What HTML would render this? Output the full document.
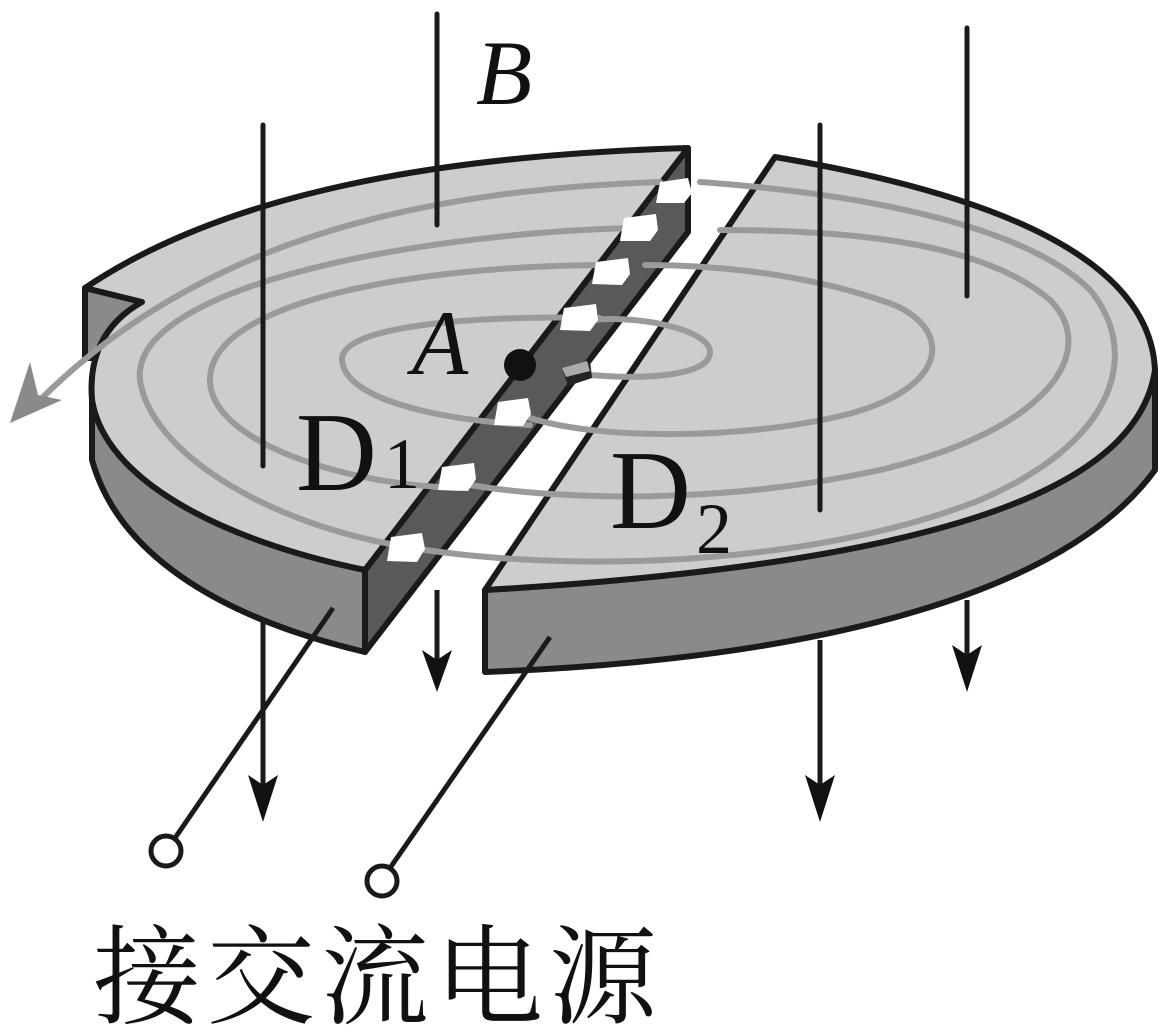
<!DOCTYPE html>
<html><head><meta charset="utf-8"><style>html,body{margin:0;padding:0;background:#fff}svg{display:block}</style></head>
<body>
<svg width="1168" height="1036" viewBox="0 0 1168 1036" xmlns="http://www.w3.org/2000/svg">
<!-- lower field lines -->
<g stroke="#1a1a1a" stroke-width="5" fill="none">
<line x1="263" y1="600" x2="263" y2="790"/>
<line x1="437" y1="590" x2="437" y2="665"/>
<line x1="820" y1="640" x2="820" y2="790"/>
<line x1="967" y1="600" x2="967" y2="665"/>
</g>
<g fill="#111">
<path d="M248,775 L263,822 L278,775 L263,785Z"/>
<path d="M422,650 L437,692 L452,650 L437,660Z"/>
<path d="M805,775 L820,822 L835,775 L820,785Z"/>
<path d="M952,645 L967,692 L982,645 L967,655Z"/>
</g>
<!-- D1 side wall -->
<path d="M92,400 L92,460 C120,560 230,620 365,652 L365,570 C220,540 110,480 92,400Z" fill="#8a8a8a" stroke="#1a1a1a" stroke-width="6" stroke-linejoin="round"/>
<!-- D1 gap wall (dark) -->
<path d="M365,570 L688,148 L688,232 L365,652Z" fill="#595959" stroke="#1a1a1a" stroke-width="6" stroke-linejoin="round"/>
<!-- back notch -->
<path d="M85,288 L142,302 C115,320 100,340 98,358 L85,358Z" fill="#8a8a8a" stroke="#1a1a1a" stroke-width="6" stroke-linejoin="round"/>
<!-- D1 top face -->
<path d="M85,288 C230,190 450,155 688,148 L365,570 C220,540 105,480 92,400 C88,350 110,320 142,302 Z" fill="#cdcdcd" stroke="#1a1a1a" stroke-width="6" stroke-linejoin="round"/>
<!-- D2 side -->
<path d="M485,590 L485,672 C800,660 1060,600 1155,470 L1155,370 C1140,470 1000,560 485,590Z" fill="#8a8a8a" stroke="#1a1a1a" stroke-width="6" stroke-linejoin="round"/>
<!-- D2 top -->
<path d="M775,157 C1000,195 1150,260 1155,370 C1140,470 1000,560 485,590 Z" fill="#cdcdcd" stroke="#1a1a1a" stroke-width="6" stroke-linejoin="round"/>
<!-- spirals -->
<g stroke="#9a9a9a" stroke-width="6" fill="none" stroke-linecap="round">
<path d="M600,318 C480,315 340,325 342,360 C345,400 440,420 530,425"/>
<path d="M590,375 C650,380 710,375 710,352 C710,330 640,315 592,320"/>
<path d="M612,265 C420,265 210,300 210,380 C210,440 340,485 460,488"/>
<path d="M530,418 C600,440 740,440 845,415 C960,385 950,320 880,300 C790,270 700,265 645,265"/>
<path d="M628,228 C400,235 130,290 140,380 C150,450 260,520 395,545"/>
<path d="M470,485 C560,500 720,505 880,470 C1050,430 1100,350 1050,300 C980,240 840,230 720,230"/>
<path d="M425,550 C600,575 830,560 980,500 C1120,440 1140,350 1090,290 C1030,230 880,195 700,182"/>
<path d="M660,182 C420,190 200,240 40,400"/>
</g>
<path d="M10,423 L30,362 L38,395 L62,400 Z" fill="#8a8a8a"/>
<!-- terminals -->
<g fill="#fff">
<path d="M660,182 L688,178 L692,193 L684,203 L656,203 Z"/>
<path d="M624,218 L656,214 L658,230 L650,241 L620,241 Z"/>
<path d="M596,262 L628,258 L630,274 L622,285 L592,284 Z"/>
<path d="M564,308 L596,304 L598,320 L590,331 L560,330 Z"/>
<path d="M498,402 L528,398 L531,414 L523,426 L494,425 Z"/>
<path d="M442,467 L474,463 L476,479 L468,491 L438,490 Z"/>
<path d="M391,537 L422,533 L425,549 L417,562 L387,561 Z"/>
</g>
<path d="M562,368 L590,360 L592,378 L568,386 Z" fill="#222"/><path d="M562,368 L587,361 L590,371 L566,377Z" fill="#aaa"/>
<!-- dot A -->
<circle cx="520" cy="365" r="16" fill="#111"/>
<!-- upper field lines -->
<g stroke="#1a1a1a" stroke-width="5" stroke-linecap="round">
<line x1="437" y1="14" x2="437" y2="225"/>
<line x1="263" y1="125" x2="263" y2="466"/>
<line x1="820" y1="125" x2="820" y2="510"/>
<line x1="967" y1="28" x2="967" y2="296"/>
</g>
<!-- wires -->
<g stroke="#1a1a1a" stroke-width="5" fill="none">
<line x1="333" y1="608" x2="175" y2="838"/>
<line x1="550" y1="637" x2="390" y2="868"/>
<circle cx="166" cy="851" r="15" stroke-width="5" fill="#fff"/>
<circle cx="382" cy="881" r="15" stroke-width="5" fill="#fff"/>
</g>
<!-- labels -->
<g font-family="'Liberation Serif', serif" fill="#111">
<text x="476" y="104" font-size="92" font-style="italic">B</text>
<text x="412" y="374" font-size="92" font-style="italic">A</text>
<text x="296" y="490" font-size="112">D</text>
<text x="384" y="488" font-size="72">1</text>
<text x="610" y="528" font-size="112">D</text>
<text x="696" y="553" font-size="72">2</text>
</g>
<text x="93" y="1015" font-family="'Liberation Serif','Noto Serif CJK SC',serif" font-size="108" letter-spacing="6" fill="#111">接交流电源</text>
</svg>
</body></html>
